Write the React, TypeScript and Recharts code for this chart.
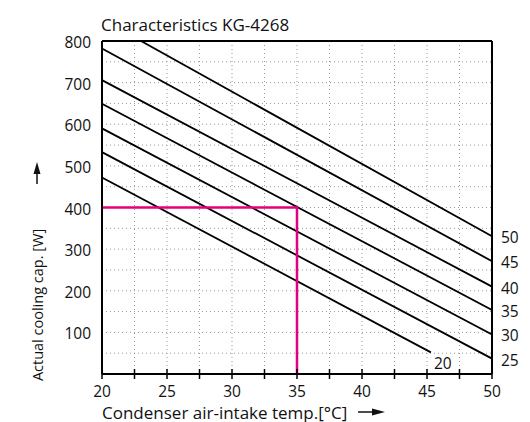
import React from 'react';
import { LineChart, Line, XAxis, YAxis, CartesianGrid, Label, ReferenceLine } from 'recharts';

// Curve labels (condensing temp.) and end points
const CURVE_NAMES = [50, 45, 40, 35, 30, 25, 20];
const CURVE_X_START = [23, 20, 20, 20, 20, 20, 20];
const CURVE_Y_START = [800, 782, 706, 649, 590, 533, 472];
const CURVE_X_END = [50, 50, 50, 50, 50, 50, 45.3];
const CURVE_Y_END = [331, 271, 210, 154, 95, 37, 52];

// Operating point guide (magenta)
const GUIDE_X = [20, 35, 35];
const GUIDE_Y = [400, 400, 0];

const X_TICKS = [20, 22.5, 25, 27.5, 30, 32.5, 35, 37.5, 40, 42.5, 45, 47.5, 50];
const Y_TICKS = [0, 50, 100, 150, 200, 250, 300, 350, 400, 450, 500, 550, 600, 650, 700, 750, 800];

const FONT = '"Open Sans", sans-serif';
const MAGENTA = '#e4007c';

const curves = CURVE_NAMES.map((name, i) => ({
  name,
  data: [
    { x: CURVE_X_START[i], y: CURVE_Y_START[i] },
    { x: CURVE_X_END[i], y: CURVE_Y_END[i] },
  ],
}));

const guide = GUIDE_X.map((x, i) => ({ x, y: GUIDE_Y[i] }));

const XTick = ({ x, y, payload }: any) => {
  const v = payload.value;
  return (
    <g>
      <line x1={x} x2={x} y1={y - 5} y2={y + 5} stroke="#000" strokeWidth={1.5} />
      {v % 5 === 0 && (
        <text x={x} y={y + 17} textAnchor="middle" dominantBaseline="central" fontSize={15.5} fontFamily={FONT} fill="#111">
          {v}
        </text>
      )}
    </g>
  );
};

const YTick = ({ x, y, payload }: any) => {
  const v = payload.value;
  if (v % 100 !== 0 || v === 0) return null;
  return (
    <text x={x - 9} y={y + 1} textAnchor="end" dominantBaseline="central" fontSize={15.5} fontFamily={FONT} fill="#111">
      {v}
    </text>
  );
};

const endLabel = (name: number) => (props: any) => {
  const { x, y, index } = props;
  if (index !== 1) return null;
  const short = name === 20;
  return (
    <text
      x={short ? x + 3 : x + 9}
      y={short ? y + 11 : y + 1}
      dominantBaseline="central"
      fontSize={15.5}
      fontFamily={FONT}
      fill="#111"
    >
      {name}
    </text>
  );
};

const XTitle = ({ viewBox }: any) => {
  const { x, y } = viewBox;
  const ty = y + 38;
  return (
    <g>
      <text x={x} y={ty} dominantBaseline="central" fontSize={17} fontFamily={FONT} fill="#111">
        Condenser air-intake temp.[°C]
      </text>
      <line x1={x + 256} x2={x + 274} y1={ty} y2={ty} stroke="#111" strokeWidth={1.5} />
      <path d={`M${x + 283},${ty} L${x + 270},${ty - 3.5} L${x + 270},${ty + 3.5} Z`} fill="#111" />
    </g>
  );
};

const YTitle = ({ viewBox }: any) => {
  const { x, y } = viewBox;
  const cx = x - 5;
  const cy = y + 264;
  const ax = cx;
  const aTop = y + 121;
  return (
    <g>
      <text
        x={cx}
        y={cy}
        transform={`rotate(-90 ${cx} ${cy})`}
        textAnchor="middle"
        dominantBaseline="central"
        fontSize={14.5}
        fontFamily={FONT}
        fill="#111"
      >
        Actual cooling cap. [W]
      </text>
      <line x1={ax} x2={ax} y1={aTop + 8} y2={aTop + 22} stroke="#111" strokeWidth={1.5} />
      <path d={`M${ax},${aTop} L${ax - 3.5},${aTop + 12} L${ax + 3.5},${aTop + 12} Z`} fill="#111" />
    </g>
  );
};

const Title = ({ viewBox }: any) => {
  const { x, y } = viewBox;
  return (
    <text x={x - 1} y={y - 17} dominantBaseline="central" fontSize={17} fontFamily={FONT} fill="#111">
      Characteristics KG-4268
    </text>
  );
};

export default function App() {
  return (
    <div style={{ position: 'absolute', left: 0, top: 0, width: 530, height: 422, background: '#fff', overflow: 'hidden' }}>
      <LineChart width={530} height={422} margin={{ top: 41, right: 38, bottom: 18, left: 42 }}>
        <CartesianGrid stroke="#999" strokeDasharray="1 3" strokeWidth={1} />
        <XAxis
          dataKey="x"
          type="number"
          domain={[20, 50]}
          ticks={X_TICKS}
          interval={0}
          tick={<XTick />}
          tickLine={false}
          tickSize={0}
          tickMargin={0}
          height={30}
          axisLine={{ stroke: '#000', strokeWidth: 2 }}
          allowDataOverflow
        >
          <Label content={<XTitle />} />
        </XAxis>
        <YAxis
          type="number"
          domain={[0, 800]}
          ticks={Y_TICKS}
          interval={0}
          tick={<YTick />}
          tickLine={false}
          tickSize={0}
          width={60}
          axisLine={{ stroke: '#000', strokeWidth: 2 }}
          allowDataOverflow
        >
          <Label content={<YTitle />} />
        </YAxis>
        <ReferenceLine y={800} stroke="#000" strokeWidth={2} ifOverflow="visible" label={<Title />} />
        <ReferenceLine x={50} stroke="#000" strokeWidth={2} ifOverflow="visible" />
        {curves.map((c) => (
          <Line
            key={c.name}
            data={c.data}
            dataKey="y"
            stroke="#000"
            strokeWidth={1.8}
            dot={false}
            activeDot={false}
            isAnimationActive={false}
            label={endLabel(c.name)}
          />
        ))}
        <Line
          data={guide}
          dataKey="y"
          stroke={MAGENTA}
          strokeWidth={2.5}
          dot={false}
          activeDot={false}
          isAnimationActive={false}
        />
      </LineChart>
    </div>
  );
}
